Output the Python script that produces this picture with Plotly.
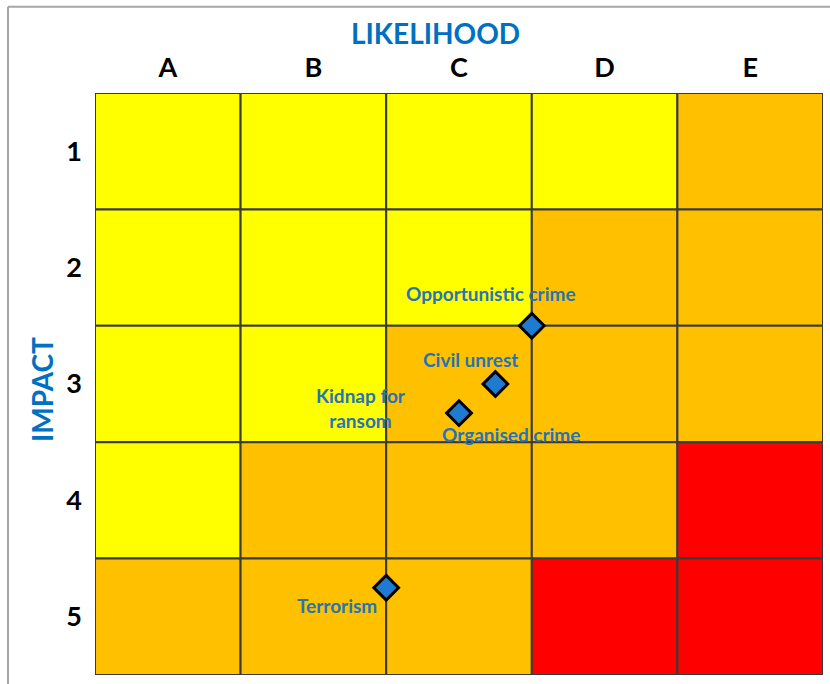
import plotly.graph_objects as go

likelihood = ["A", "B", "C", "D", "E"]
impact = ["1", "2", "3", "4", "5"]
# risk level per cell: rows = impact 1..5, cols = likelihood A..E (0=low,1=medium,2=high)
risk_levels = [
    [0, 0, 0, 0, 1],
    [0, 0, 0, 1, 1],
    [0, 0, 1, 1, 1],
    [0, 1, 1, 1, 2],
    [1, 1, 1, 2, 2],
]
level_colors = ["#FFFF00", "#FFC000", "#FF0000"]

risks = ["Opportunistic crime", "Civil unrest", "Kidnap for<br>ransom", "Organised crime", "Terrorism"]
risk_x = [3.0, 2.75, 2.5, 2.5, 2.0]
risk_y = [2.0, 2.5, 2.75, 2.75, 4.25]
label_x = [2.72, 2.58, 1.83, 2.86, 1.66]
label_y = [1.72, 2.29, 2.71, 2.93, 4.40]

BLUE_TXT = "#2574B8"
FONT = "Lato"

fig = go.Figure()

shapes = []
for r, row in enumerate(risk_levels):
    for c, lvl in enumerate(row):
        shapes.append(dict(type="rect", xref="x", yref="y", x0=c, x1=c + 1, y0=r, y1=r + 1,
                           fillcolor=level_colors[lvl], line=dict(color="#3A3A3A", width=2),
                           layer="below"))
# outer frame of the picture
shapes.append(dict(type="line", xref="paper", yref="paper", x0=-0.1195, x1=1.2, y0=1.148, y1=1.148,
                   line=dict(color="#A6A6A6", width=2)))
shapes.append(dict(type="line", xref="paper", yref="paper", x0=-0.1195, x1=-0.1195, y0=-0.2, y1=1.148,
                   line=dict(color="#A6A6A6", width=2)))

# markers (unique positions)
seen = []
mx, my = [], []
for x, y in zip(risk_x, risk_y):
    if (x, y) not in seen:
        seen.append((x, y))
        mx.append(x)
        my.append(y)
fig.add_trace(go.Scatter(x=mx, y=my, mode="markers", hoverinfo="skip",
                         marker=dict(symbol="diamond", size=19, color="#1F7BD2",
                                     line=dict(color="#000000", width=3))))

annotations = []
for name, x, y in zip(risks, label_x, label_y):
    annotations.append(dict(x=x, y=y, xref="x", yref="y", text=name, showarrow=False,
                            xanchor="center", yanchor="middle",
                            font=dict(family=FONT, size=19, color=BLUE_TXT), align="center"))
annotations.append(dict(x=(435 - 95) / 728, y=1.0 + 60 / 582, xref="paper", yref="paper", text="LIKELIHOOD",
                        xanchor="center", yanchor="middle",
                        showarrow=False, font=dict(family=FONT, size=28, color="#0070C0")))
annotations.append(dict(x=-53 / 728, y=0.5 - 5 / 582, xref="paper", yref="paper", text="IMPACT",
                        xanchor="center", yanchor="middle",
                        textangle=-90, showarrow=False,
                        font=dict(family=FONT, size=28, color="#0070C0")))

fig.update_layout(
    width=830, height=684,
    margin=dict(l=95, r=7, t=93, b=9),
    paper_bgcolor="white", plot_bgcolor="white",
    showlegend=False,
    shapes=shapes, annotations=annotations,
    xaxis=dict(range=[0, 5], side="top", tickvals=[i + 0.5 for i in range(5)], ticktext=likelihood,
               showgrid=False, zeroline=False, ticks="", ticklabelstandoff=10,
               tickfont=dict(family=FONT, size=27, color="black", weight="bold"), fixedrange=True),
    yaxis=dict(range=[5, 0], tickvals=[i + 0.5 for i in range(5)], ticktext=impact,
               showgrid=False, zeroline=False, ticks="", ticklabelstandoff=12,
               tickfont=dict(family=FONT, size=27, color="black", weight="bold"), fixedrange=True),
    font=dict(family=FONT),
)
for a in fig.layout.annotations:
    a.font.weight = "bold"

fig.write_html("out.html")
